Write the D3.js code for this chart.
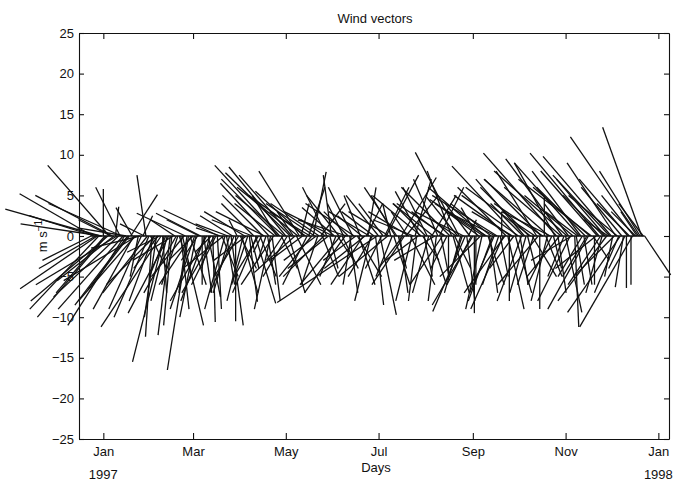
<!DOCTYPE html>
<html>
<head>
<meta charset="utf-8">
<script src="https://d3js.org/d3.v7.min.js"></script>
<style>
  body { margin: 0; background: #fff; }
  text { font-family: "Liberation Sans", Arial, Helvetica, sans-serif; fill: #111; }
</style>
</head>
<body>
<div id="chart"></div>
<script>
// day of year 1997 (0 = Jan 1); even days first, then the odd days
var days = [
  -8, -6, -4, -2, 0, 2, 4, 6, 8, 10,
  12, 14, 16, 18, 20, 22, 24, 26, 28, 30,
  32, 34, 36, 38, 40, 42, 44, 46, 48, 50,
  52, 54, 56, 58, 60, 62, 64, 66, 68, 70,
  72, 74, 76, 78, 80, 82, 84, 86, 88, 90,
  92, 94, 96, 98, 100, 102, 104, 106, 108, 110,
  112, 114, 116, 118, 120, 122, 124, 126, 128, 130,
  132, 134, 136, 138, 140, 142, 144, 146, 148, 150,
  152, 154, 156, 158, 160, 162, 164, 166, 168, 170,
  172, 174, 176, 178, 180, 182, 184, 186, 188, 190,
  192, 194, 196, 198, 200, 202, 204, 206, 208, 210,
  212, 214, 216, 218, 220, 222, 224, 226, 228, 230,
  232, 234, 236, 238, 240, 242, 244, 246, 248, 250,
  252, 254, 256, 258, 260, 262, 264, 266, 268, 270,
  272, 274, 276, 278, 280, 282, 284, 286, 288, 290,
  292, 294, 296, 298, 300, 302, 304, 306, 308, 310,
  312, 314, 316, 318, 320, 322, 324, 326, 328, 330,
  332, 334, 336, 338, 340, 342, 344, 346, 348, 350,
  352, 354, 356,
  -7, -5, -3, -1, 1, 3, 5, 7, 9, 11,
  13, 15, 17, 19, 21, 23, 25, 27, 29, 31,
  33, 35, 37, 39, 41, 43, 45, 47, 49, 51,
  53, 55, 57, 59, 61, 63, 65, 67, 69, 71,
  73, 75, 77, 79, 81, 83, 85, 87, 89, 91,
  93, 95, 97, 99, 101, 103, 105, 107, 109, 111,
  113, 115, 117, 119, 121, 123, 125, 127, 129, 131,
  133, 135, 137, 139, 141, 143, 145, 147, 149, 151,
  153, 155, 157, 159, 161, 163, 165, 167, 169, 171,
  173, 175, 177, 179, 181, 183, 185, 187, 189, 191,
  193, 195, 197, 199, 201, 203, 205, 207, 209, 211,
  213, 215, 217, 219, 221, 223, 225, 227, 229, 231,
  233, 235, 237, 239, 241, 243, 245, 247, 249, 251,
  253, 255, 257, 259, 261, 263, 265, 267, 269, 271,
  273, 275, 277, 279, 281, 283, 285, 287, 289, 291,
  293, 295, 297, 299, 301, 303, 305, 307, 309, 311,
  313, 315, 317, 319, 321, 323, 325, 327, 329, 331,
  333, 335, 337, 339, 341, 343, 345, 347, 349, 351,
  353, 355
];

// east component (m/s)
var uWind = [
  -6, -8, -9.5, -11.7, 0, -8.5, -7.6, -9.5, 0.4, -8,
  -9, -7, -6.5, 3.3, -5, -9, -6, 1.2, -1.1, -4.3,
  -0.8, -6, -3, -7.4, -3.9, -2, -1.5, -5, -4, 1.5,
  2.6, -6, -2.6, -4, -3, -2, -5.5, 1, -4.5, -1,
  0.3, -3, -6.8, 2, -2.5, -4, 1.5, -3, -1, 2,
  -2, -4, 1, -5, 2.5, -3, -1, -6, 1, -2,
  -4, -3, -8, -2, -7, 2, -6.5, -5, -7.5, 1,
  -6, -3, -5, 1.6, -4, -6, 2, -3, -5, -1,
  -4, 2, -5, -2, -6, 1, -3, -4, 2, -3,
  -5, 1, -2, -4, -12.3, 2, -3, 4, -5, -2,
  -3, 1, 4.3, -4, -2, 3, -5, -1, -3, 2,
  -4, -2, 3, -5, -3, 1, -4, -2, -6, 2,
  -3, -5.4, -1, -4, 1, -3, 0, -2, -5, -6,
  -7, 1, -3, -6, -2, 0, -5, 2, -7, -3,
  -8, 1, -4, -2, -6, 3, -3, -5, -7, 0,
  -2, -6, 1, -9, -4, -7, 2, -3, -5, 0.5,
  -4, -6, 1, -3, -7, 2, -5, -8.5, -2, -6,
  -3, -8.4, -5, -6, -6.5, -1, 0, -4, -6.5, -3,
  -8.4, -4.8, 3.2,
  -9, -7, -8.5, -10, -6, -9.5, -4, -7, -10, -3,
  -8, -6, -5, -2, -7, -1, -4, -3, -5.5, 2,
  -3, -1.5, -4, 0.5, -2, -5, -1, -3, -2, 1,
  -4, -1, 2, -3, -2, -4, 0, -3, 1.5, -2,
  -4, 0.5, -3, -5, 1, -2, -4, 0, -3, 2,
  -5, -2, 1, -4, -3, 2, -5, -1, -6, 1,
  -5, -7, 2, -6, -3, -8, -2, 3, -5, -4,
  -7, 2, -4, -6, -2, 3, -5, -3, 1, -6,
  -2, -4, 2, -5, -3, -1, -6, 3, -2, -4,
  2, -5, -3, 1, -4, -2, 3, -6, -1, 2,
  -4, 1, -3, 4, -5, -2, 2, -4, -6, 1,
  -3, 2, -5, -1, 3, -4, -6, 0, -3, 2,
  -4, -2, -6, 1, -3, -5, 0, -4, -2, -7,
  2, -5, -3, -8, 1, -4, -6, 0, -5, 2,
  -7, -3, -6, 1, -8, -2, -5, 0, -6, 2,
  -8, -3, -5, 1, -7, -2, -9, -4, -6, 1,
  -8, -3, -6, -5, -9, 0, -7, -4, -5, -6,
  -7, -1, -6, -3, -5, -2, -6, 0, -4, -2,
  -5, -3
];

// north component (m/s)
var vWind = [
  -3, 2.5, -6.5, 3.3, 5.8, -10, 8.7, 5, 3.6, -7.5,
  4, -11, -8.5, 5.1, -9, -5.5, -1.5, 2.5, 7.5, -10,
  -12.4, -6, -4, -11.2, -15.5, -8, -12.2, -3, -7, -5,
  -11, 2.8, -16.5, -6, -9, -3, 2.8, -7, -8, -4,
  -10.6, -6, 3.2, -5, -9, 1.5, -11, -7, 2, -4,
  -8, -3, -8.1, 2, -8.3, -5, -2, 3, -6, -9,
  -6, 5, 8.7, -3, 8.5, -7, 7.5, -4.5, 6, 4,
  5.5, -6, 3, 7.9, -3, 4, -5, 2, -4, 7.5,
  3.5, -3, -6, 4, 2, -7, 6, -3, -6, 2.5,
  -4, 6, -8, 3, -8.2, -9.7, 4, 7.5, 3, -5,
  5, -4, 7.2, -6, 3, -6, 2, -8, 5.5, -3,
  4, -7, 5, -3, 7, -5, 3, -4, 6, -7,
  2, 10.3, -3, -9.3, 2, -6, -9.5, 3.5, -5, 4,
  4.5, -7, -8, 3, -6, 3, -7, -9, 5, -4,
  8.6, -6, 4, -7, 6, -5, 2, -6, 7, 5,
  -8, 3, -4, 10.2, -5, 9.5, -9.4, 4, -3, -11.2,
  3, 8, -6, -5, 6, -3, -4, 10.2, -7, 7,
  2, 9.8, -5, 5, -9.4, -6.3, -6.4, 4, -11.2, 3,
  12.2, 13.4, -4.8,
  5.2, -4, -9, 1.5, -7, -8, 2, -5.5, -6, 6,
  -9, 1, -6.5, 3.5, -8, -5, -9, 1.5, -7, -4,
  -8, -10, -2, -7, -5, -9.5, -11, 2, -6, -9,
  -5, -7, -6, -3, -10, 2, -6, -8, -7.5, -2,
  -7, -9, 1, -4, -6, -7, 2.5, -10.5, -5, -7,
  3, -6, -4, 4, -7, -5, 5, -3, 6.5, -8,
  4, 7, -4, 5, -5, 7.8, 3, -6, 8, -3,
  5, 6, -5, 4, -6, 4, -5, 6, -4, 3,
  -5, 5, -4, -7, 3, -6, 4, -5, 5, -6,
  4, 3, -5, -8.5, 5, -4, 6, -5, 4, -6,
  6, -7, -4, 5, 3, -8, 7, -3, 5, -5,
  6, -6, 4, -8, 6, -6, 4, -5, 8, -4,
  5, -7, 3, -8, 4, -8.5, -6, 3, -9, 6,
  -6, 4, -7, 5, -5, -9, 6, -8, 3, -7,
  5, -8, 7, -4, 6, -6, 8, -9, 4, -5,
  7, -6, 9, -7, 6, -5, 8, -8, 5, -6,
  9, -5, 6, -9, 7, -6, 8, -6, 5, -8,
  7.5, -5, 9, -7, 6, -4, 7, -6, 5, 3,
  8, 4
];

var monthLabels = ["Jan", "Mar", "May", "Jul", "Sep", "Nov", "Jan"];
var monthDates = ["1997-01-01", "1997-03-01", "1997-05-01", "1997-07-01", "1997-09-01", "1997-11-01", "1998-01-01"];
var yearLabels = ["1997", "1998"];
var yTicks = [-25, -20, -15, -10, -5, 0, 5, 10, 15, 20, 25];

var width = 673, height = 483;
var mLeft = 79, mRight = 669, mTop = 33, mBottom = 439;

var parse = d3.timeParse("%Y-%m-%d");
var jan1 = new Date(1997, 0, 1);
var dayDate = function(d) { return d3.timeDay.offset(jan1, d); };

var x = d3.scaleTime()
  .domain([new Date(1996, 11, 16), new Date(1998, 0, 8)])
  .range([mLeft, mRight]);

var y = d3.scaleLinear()
  .domain([-25, 25])
  .range([mBottom, mTop]);

// pixels per m/s, same in both directions so sticks keep their angle
var k = y(0) - y(1);

var svg = d3.select("#chart").append("svg")
  .attr("width", width)
  .attr("height", height);

var sticks = days.map(function(d, i) {
  return { date: dayDate(d), u: uWind[i], v: vWind[i] };
});

// zero line along the record
var dayExtent = d3.extent(days);
svg.append("line")
  .attr("x1", x(dayDate(dayExtent[0])))
  .attr("x2", x(dayDate(dayExtent[1])))
  .attr("y1", y(0))
  .attr("y2", y(0))
  .attr("stroke", "#111")
  .attr("stroke-width", 1.6);

svg.append("g").selectAll("line")
  .data(sticks)
  .enter()
  .append("line")
  .attr("x1", function(d) { return x(d.date); })
  .attr("y1", y(0))
  .attr("x2", function(d) { return x(d.date) + d.u * k; })
  .attr("y2", function(d) { return y(d.v); })
  .attr("stroke", "#111")
  .attr("stroke-width", 1.3);

var tickDates = monthDates.map(parse);

// axes, ticks point inward on all four sides
var xAxis = d3.axisBottom(x)
  .tickValues(tickDates)
  .tickFormat(function(d, i) { return monthLabels[i]; })
  .tickSizeInner(-6)
  .tickSizeOuter(0)
  .tickPadding(8);

svg.append("g")
  .attr("transform", "translate(0," + mBottom + ")")
  .call(xAxis);

svg.append("g")
  .attr("transform", "translate(0," + mTop + ")")
  .call(d3.axisTop(x).tickValues(tickDates).tickFormat("").tickSizeInner(-6).tickSizeOuter(0));

svg.append("g")
  .attr("transform", "translate(" + mLeft + ",0)")
  .call(d3.axisLeft(y).tickValues(yTicks).tickSizeInner(-5).tickSizeOuter(0).tickPadding(5));

svg.append("g")
  .attr("transform", "translate(" + mRight + ",0)")
  .call(d3.axisRight(y).tickValues(yTicks).tickFormat("").tickSizeInner(-5).tickSizeOuter(0));

svg.selectAll(".domain, .tick line").attr("stroke", "#111").attr("stroke-width", 1.1);
svg.selectAll(".tick text").style("font-size", "13px").attr("fill", "#111");

// year labels under first and last tick
svg.selectAll(".year")
  .data(yearLabels)
  .enter()
  .append("text")
  .attr("class", "year")
  .attr("x", function(d, i) { return x(tickDates[i === 0 ? 0 : tickDates.length - 1]); })
  .attr("y", 479)
  .attr("text-anchor", "middle")
  .style("font-size", "13px")
  .text(function(d) { return d; });

svg.append("text")
  .attr("x", 376)
  .attr("y", 472)
  .attr("text-anchor", "middle")
  .style("font-size", "13px")
  .text("Days");

svg.append("text")
  .attr("x", 375)
  .attr("y", 23)
  .attr("text-anchor", "middle")
  .style("font-size", "13px")
  .text("Wind vectors");

var ylab = svg.append("text")
  .attr("transform", "translate(47,236) rotate(-90)")
  .attr("text-anchor", "middle")
  .style("font-size", "13px");
ylab.append("tspan").text("m s");
ylab.append("tspan").attr("dy", -5).style("font-size", "10px").text("−1");
</script>
</body>
</html>
